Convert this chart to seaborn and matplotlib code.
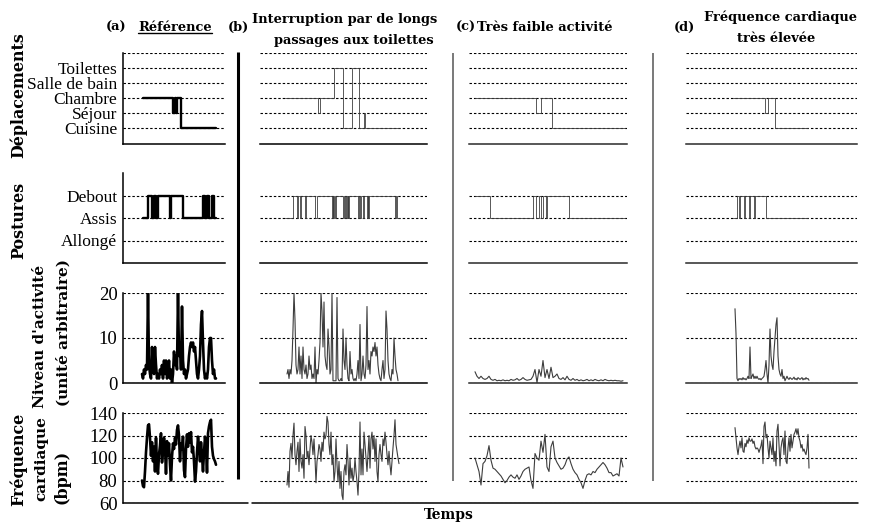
import numpy as np
import matplotlib
matplotlib.use("Agg")
import matplotlib.pyplot as plt
import seaborn as sns

sns.set_theme(style="white")
plt.rcParams["font.family"] = ["Liberation Serif", "DejaVu Serif"]

# ---------------------------------------------------------------- data
# time is expressed in minutes from the start of each observation window
window = {"a": 102, "b": 167, "c": 158, "d": 171}

lieux = ["Cuisine", "Séjour", "Chambre", "Salle de bain", "Toilettes"]
postures = ["Allongé", "Assis", "Debout"]

# room codes: 1 Cuisine, 2 Séjour, 3 Chambre, 4 Salle de bain, 5 Toilettes
dep_t_a = [20, 49.5, 51.5, 53.5, 54.5, 58, 93]
dep_s_a = [3, 2, 3, 2, 3, 1, 1]
dep_t_b = [25, 57.7, 60, 74.3, 83, 91.7, 98.5, 103.5, 104.5, 139]
dep_s_b = [3, 2, 3, 5, 1, 5, 1, 2, 1, 1]
dep_t_c = [6, 67, 72, 83.3, 156]
dep_s_c = [3, 2, 3, 1, 1]
dep_t_d = [47, 79, 82.3, 89, 122]
dep_s_d = [3, 2, 3, 1, 1]

# posture codes: 1 Allongé, 2 Assis, 3 Debout
pos_t_a = [20, 25, 29, 31, 33, 34.5, 46.5, 48, 60, 80, 82, 84.5, 86, 89, 91.5, 93]
pos_s_a = [2, 3, 2, 3, 2, 3, 2, 3, 2, 3, 2, 3, 2, 3, 2, 2]
pos_t_b = [25, 33.3, 36.7, 37.5, 40, 40.8, 45, 45.8, 55, 56.7,
           71.7, 72.5, 73.3, 74.2, 75, 75.8, 83.3, 84, 85, 85.8,
           86.7, 87.5, 88.3, 89, 98.3, 99, 100, 100.8, 103.3, 104,
           106.7, 107.5, 108.3, 109, 135, 135.8, 136.7, 139]
pos_s_b = [2, 3, 2, 3, 2, 3, 2, 3, 2, 3,
           2, 3, 2, 3, 2, 3, 2, 3, 2, 3,
           2, 3, 2, 3, 2, 3, 2, 3, 2, 3,
           2, 3, 2, 3, 2, 3, 2, 2]
pos_t_c = [6, 21, 64, 67, 70, 72, 74, 76.5, 78, 100, 156]
pos_s_c = [3, 2, 3, 2, 3, 2, 3, 2, 3, 2, 2]
pos_t_d = [47, 50.5, 53, 54, 57.5, 58.5, 63, 64, 67.5, 68.5, 80, 122]
pos_s_d = [2, 3, 2, 3, 2, 3, 2, 3, 2, 3, 2, 2]

# activity level (arbitrary unit) and heart rate (bpm), regularly sampled
t0 = {"a": 19, "b": 27, "c": 6, "d": 49}
dt = {"a": 1, "b": 1, "c": 2, "d": 1}

act_a = [2, 1, 3, 2, 4, 3, 20, 4, 2, 1, 8, 3, 2, 8, 4, 1, 2, 1, 3, 2,
         4, 1, 5, 2, 5, 1, 2, 5, 1, 3, 0, 2, 7, 4, 6, 3, 20, 6, 9, 3,
         17, 5, 2, 3, 1, 2, 3, 6, 8, 9, 8, 9, 7, 8, 5, 2, 1, 3, 6, 13,
         16, 9, 3, 1, 2, 1, 3, 8, 10, 10, 5, 2, 3, 1, 1]
fc_a = [80, 75, 74, 88, 105, 118, 129, 130, 118, 102, 114, 97, 110, 88, 118,
        94, 86, 103, 111, 122, 96, 106, 118, 110, 86, 115, 102, 113, 94, 80,
        101, 113, 108, 118, 112, 125, 129, 120, 97, 113, 108, 119, 89, 83, 108,
        121, 110, 122, 114, 123, 105, 110, 97, 79, 88, 105, 119, 110, 97, 114,
        102, 88, 105, 119, 110, 87, 122, 128, 132, 134, 110, 102, 99, 97, 94]

act_b = [2, 3, 1, 3, 2, 5, 12, 20, 14, 4, 2, 3, 8, 2, 6, 1, 8, 3, 2, 4,
         1, 2, 6, 3, 4, 1, 2, 1, 8, 0, 3, 2, 5, 9, 20, 16, 8, 18, 6, 4,
         3, 12, 8, 2, 3, 20, 0.5, 0.5, 0.5, 0.5, 19, 1, 0.5, 0.5, 1, 0.5, 12, 5, 3, 10,
         4, 1, 0.5, 7, 2, 3, 1, 0.5, 1, 0.5, 2, 5, 1, 13, 0.5, 2, 6, 2, 1, 4,
         17, 3, 5, 2, 7, 6, 8, 7, 9, 6, 8, 4, 2, 1, 0.5, 3, 5, 1, 3, 16,
         12, 5, 2, 1, 0.5, 3, 2, 10, 6, 3, 2, 0.5]
fc_b = [76, 88, 74, 106, 113, 100, 120, 131, 103, 94, 106, 114, 88, 117, 97,
        91, 103, 82, 128, 120, 100, 106, 94, 108, 120, 114, 103, 117, 100, 78,
        97, 103, 112, 108, 97, 114, 106, 123, 117, 120, 137, 132, 112, 103, 123,
        94, 103, 79, 88, 117, 94, 79, 97, 73, 88, 67, 63, 88, 94, 85,
        112, 97, 76, 100, 82, 91, 79, 85, 100, 88, 79, 67, 88, 132, 85,
        108, 85, 123, 112, 100, 88, 103, 120, 91, 117, 123, 108, 120, 97, 117,
        88, 79, 103, 112, 103, 97, 117, 111, 123, 114, 103, 94, 106, 94, 85,
        97, 109, 120, 134, 112, 106, 100, 95]

act_c = [2.5, 1.5, 1, 1.5, 1, 0.8, 1, 1.5, 0.8, 0.6, 0.8, 0.5, 0.6, 0.5, 0.7,
         0.5, 0.6, 0.5, 0.8, 0.6, 0.7, 1, 0.6, 0.8, 1.2, 0.8, 0.6, 0.7, 0.8, 1.5,
         3, 0.1, 3, 1.5, 5, 1.2, 3, 1, 3.5, 1.2, 1.5, 2, 1, 0.8, 1.2,
         0.7, 1.5, 0.8, 0.6, 1, 0.6, 0.8, 0.5, 0.7, 0.5, 0.6, 0.8, 0.5, 0.7, 0.5,
         0.8, 0.6, 0.5, 0.7, 0.5, 0.8, 0.6, 0.5, 0.6, 0.5, 0.6, 0.5, 0.5, 0.4, 0.5]
fc_c = [100, 94, 88, 76, 95, 97, 102, 111, 98, 91, 90, 88, 86, 84, 81,
        78, 80, 83, 85, 83, 82, 85, 81, 84, 88, 90, 91, 92, 80, 73,
        104, 100, 98, 115, 105, 121, 92, 88, 110, 115, 100, 96, 93, 90, 91,
        94, 99, 101, 95, 90, 87, 85, 81, 78, 73, 80, 85, 86, 85, 88,
        87, 90, 92, 94, 96, 94, 91, 87, 87, 84, 85, 86, 84, 100, 92]

act_d = [16.5, 11, 1, 0.5, 1, 0.8, 1, 0.7, 1.2, 0.8, 1, 0.7, 1, 1.5, 1,
         8, 1, 1.5, 2, 1, 1.5, 1, 1.5, 1, 0.8, 1, 0.7, 1, 1.2, 1.5,
         3, 5, 2, 0, 4, 12, 6, 4, 3, 7, 10, 13, 14.5, 6, 3,
         2, 1.5, 3, 1, 1.5, 0.5, 1, 1.5, 1, 0.8, 1.2, 1, 0.8, 1, 1.3,
         0.8, 1, 0.7, 1.2, 1, 0.8, 1, 1.2, 0.7, 1, 0.8, 1.2, 0.9, 1, 0.6]
fc_d = [127, 118, 109, 103, 110, 115, 109, 118, 106, 105, 113, 110, 116, 113, 118,
        115, 115, 117, 113, 115, 110, 108, 109, 108, 105, 108, 111, 116, 95, 128,
        132, 118, 121, 109, 100, 115, 109, 103, 118, 97, 106, 93, 124, 130, 112,
        93, 109, 115, 118, 103, 124, 97, 95, 109, 118, 106, 121, 109, 115, 121,
        123, 126, 121, 126, 118, 115, 109, 112, 106, 108, 105, 103, 109, 121, 91]

dep = {"a": (dep_t_a, dep_s_a), "b": (dep_t_b, dep_s_b),
       "c": (dep_t_c, dep_s_c), "d": (dep_t_d, dep_s_d)}
pos = {"a": (pos_t_a, pos_s_a), "b": (pos_t_b, pos_s_b),
       "c": (pos_t_c, pos_s_c), "d": (pos_t_d, pos_s_d)}
act = {"a": act_a, "b": act_b, "c": act_c, "d": act_d}
fc = {"a": fc_a, "b": fc_b, "c": fc_c, "d": fc_d}

# ---------------------------------------------------------------- layout
W, H = 873, 523
fig = plt.figure(figsize=(W / 100, H / 100), dpi=100)


def px_axes(left, top, right, bottom):
    return fig.add_axes([left / W, 1 - bottom / H, (right - left) / W, (bottom - top) / H])


cols = [("a", 123, 225), ("b", 260, 427), ("c", 469, 627), ("d", 686, 857)]
rows = [
    (53, 143.5, (0, 6), [1, 2, 3, 4, 5, 6], lieux + [""], 12.5),
    (173, 263, (0, 4), [1, 2, 3], postures, 12.5),
    (293, 383, (0, 20), [0, 10, 20], ["0", "10", "20"], 13.5),
    (413, 503, (60, 140), [60, 80, 100, 120, 140], ["60", "80", "100", "120", "140"], 13.5),
]

dash = (0, (2.2, 1.8))

for key, left, right in cols:
    main = key == "a"
    color = "black" if main else "#3d3d3d"
    lw = 1.9 if main else 0.8
    for r, (top, bottom, ylim, ticks, labels, lsize) in enumerate(rows):
        ax = px_axes(left, top, right, bottom)
        ax.set_facecolor("none")
        if r == 0:
            tt, ss = dep[key]
            sns.lineplot(x=tt, y=ss, ax=ax, color=color, linewidth=lw - 0.2,
                         drawstyle="steps-post", estimator=None, legend=False)
        elif r == 1:
            tt, ss = pos[key]
            sns.lineplot(x=tt, y=ss, ax=ax, color=color, linewidth=lw - 0.2,
                         drawstyle="steps-post", estimator=None, legend=False)
        else:
            vals = act[key] if r == 2 else fc[key]
            tt = t0[key] + dt[key] * np.arange(len(vals))
            sns.lineplot(x=tt, y=vals, ax=ax, color=color, linewidth=lw,
                         estimator=None, legend=False)
        ax.set_xlim(0, window[key])
        ax.set_ylim(*ylim)
        ax.set_xticks([])
        ax.set_xlabel("")
        ax.set_ylabel("")
        ax.set_yticks(ticks, labels if main else [""] * len(ticks))
        ax.tick_params(axis="y", length=0, pad=4, labelsize=lsize, colors="black")
        ax.grid(axis="y", linestyle=dash, color="black", linewidth=0.8)
        ax.grid(axis="x", visible=False)
        for side in ("top", "right"):
            ax.spines[side].set_visible(False)
        ax.spines["left"].set_visible(main)
        ax.spines["left"].set_color("black")
        ax.spines["left"].set_linewidth(1.1)
        ax.spines["bottom"].set_visible(r < 3)
        ax.spines["bottom"].set_color("black" if key in ("a", "b") else "#2a2a2a")
        ax.spines["bottom"].set_linewidth(1.1)

# overlay in pixel coordinates for separators, labels and titles
ov = fig.add_axes([0, 0, 1, 1])
ov.set_xlim(0, W)
ov.set_ylim(H, 0)
ov.axis("off")
ov.patch.set_alpha(0)

ov.plot([238, 238], [52, 479], color="black", lw=2.2, solid_capstyle="butt")
ov.plot([453, 453], [53, 481], color="#6e6e6e", lw=1.3, solid_capstyle="butt")
ov.plot([653, 653], [53, 481], color="#6e6e6e", lw=1.3, solid_capstyle="butt")
ov.plot([123, 248], [503, 503], color="black", lw=1.1)
ov.plot([252, 858], [503, 503], color="black", lw=1.1)

bold = dict(fontfamily="DejaVu Serif", fontweight="bold", color="black")
tsize = 9.4

ov.text(116, 31, "(a)", ha="center", va="baseline", fontsize=tsize, **bold)
ref = ov.text(138, 31, "Référence", ha="left", va="baseline", fontsize=tsize, **bold)
ov.text(238, 31, "(b)", ha="center", va="baseline", fontsize=tsize, **bold)
ov.text(345, 23, "Interruption par de longs", ha="center", va="baseline", fontsize=tsize, **bold)
ov.text(354, 44, "passages aux toilettes", ha="center", va="baseline", fontsize=tsize, **bold)
ov.text(466, 31, "(c)", ha="center", va="baseline", fontsize=tsize, **bold)
ov.text(477, 31, "Très faible activité", ha="left", va="baseline", fontsize=tsize, **bold)
ov.text(684, 31, "(d)", ha="center", va="baseline", fontsize=tsize, **bold)
ov.text(781, 21, "Fréquence cardiaque", ha="center", va="baseline", fontsize=tsize, **bold)
ov.text(776, 42, "très élevée", ha="center", va="baseline", fontsize=tsize, **bold)
ov.text(424, 519, "Temps", ha="left", va="baseline", fontsize=10, **bold)

rsize = 11.4
ov.text(19, 95, "Déplacements", rotation=90, ha="center", va="center", fontsize=rsize, **bold)
ov.text(19, 220, "Postures", rotation=90, ha="center", va="center", fontsize=rsize, **bold)
ov.text(40, 336, "Niveau d'activité", rotation=90, ha="center", va="center", fontsize=11, **bold)
ov.text(63, 332, "(unité arbitraire)", rotation=90, ha="center", va="center", fontsize=11, **bold)
ov.text(19, 459, "Fréquence", rotation=90, ha="center", va="center", fontsize=rsize, **bold)
ov.text(41, 459, "cardiaque", rotation=90, ha="center", va="center", fontsize=11, **bold)
ov.text(62, 477, "(bpm)", rotation=90, ha="center", va="center", fontsize=rsize, **bold)

# underline the reference title
fig.canvas.draw()
bb = ref.get_window_extent(fig.canvas.get_renderer())
inv = ov.transData.inverted()
(x0, _), (x1, _) = inv.transform([(bb.x0, bb.y0), (bb.x1, bb.y0)])
ov.plot([x0, x1], [33, 33], color="black", lw=1.0)

fig.savefig("out.png", dpi=100)
